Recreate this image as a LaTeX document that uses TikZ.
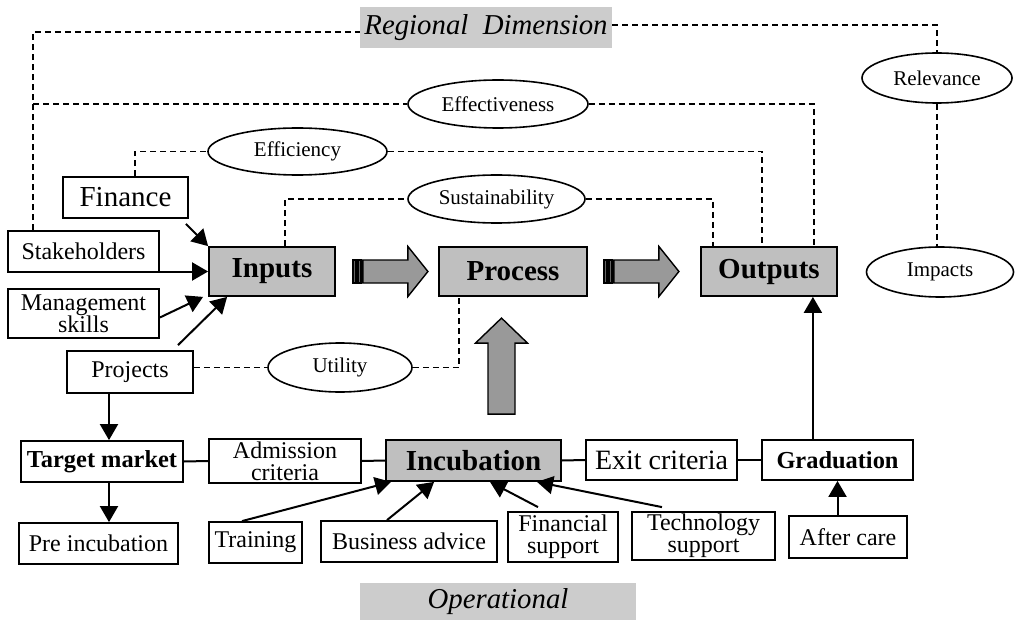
\documentclass[tikz,border=0pt]{standalone}
\usepackage{fontspec}
\setmainfont{Liberation Serif}
\usetikzlibrary{shapes.geometric,arrows.meta}

\tikzset{
  box/.style={draw, line width=0.9pt, inner sep=1pt, align=center, font=\fontsize{12}{11}\selectfont},
  bigbox/.style={box, font=\fontsize{14.5}{16}\selectfont},
  stage/.style={box, fill=black!25, font=\bfseries\fontsize{14.5}{16}\selectfont},
  bfbox/.style={box, font=\bfseries\fontsize{12.2}{14}\selectfont},
  oval/.style={ellipse, draw, line width=0.8pt, inner sep=0pt, font=\fontsize{10.5}{12}\selectfont},
  dimbox/.style={fill=black!20, inner sep=0pt, font=\itshape\fontsize{14.4}{16}\selectfont},
  dline/.style={line width=0.75pt, dash pattern=on 3pt off 2pt},
  arr/.style={line width=1pt, -{Triangle[length=8pt,width=9pt]}},
  link/.style={line width=1pt},
  fatarrow/.pic={
    \draw[line width=0.7pt, fill=black!60] (0pt,-5.75pt) rectangle (1.5pt,5.75pt);
    \draw[line width=0.7pt, fill=black!60] (2.5pt,-5.75pt) rectangle (4pt,5.75pt);
    \draw[line width=0.7pt, fill=black!40] (5pt,-5.75pt) -- (27.5pt,-5.75pt) -- (27.5pt,-12.5pt)
      -- (37.5pt,0pt) -- (27.5pt,12.5pt) -- (27.5pt,5.75pt) -- (5pt,5.75pt) -- cycle;
  }
}

\begin{document}
\begin{tikzpicture}[x=0.5pt,y=-0.5pt]
  \useasboundingbox (0,0) rectangle (1016,620);

  % dimensions
  \node[dimbox, minimum width=126pt, minimum height=20.5pt] (reg) at (486,27.5) {Regional~~Dimension};
  \node[dimbox, minimum width=138pt, minimum height=18.5pt] (oper) at (498,601.5) {Operational};

  % criteria
  \node[oval, minimum width=90pt, minimum height=24pt] (eff) at (498,104) {Effectiveness};
  \node[oval, minimum width=89.5pt, minimum height=23.5pt] (effi) at (297.5,151.5) {Efficiency};
  \node[oval, minimum width=88.5pt, minimum height=24pt] (sust) at (496.5,199) {Sustainability};
  \node[oval, minimum width=75pt, minimum height=25pt] (rel) at (937,78) {Relevance};
  \node[oval, minimum width=73.5pt, minimum height=25pt] (imp) at (940,272) {Impacts};
  \node[oval, minimum width=72pt, minimum height=24.5pt] (util) at (340,367.5) {Utility};

  % inputs side
  \node[bigbox, minimum width=62.5pt, minimum height=20.5pt] (fin) at (125.5,197.5) {Finance};
  \node[box, minimum width=75.5pt, minimum height=20.5pt] (stake) at (83.5,251.5) {Stakeholders};
  \node[box, minimum width=75.5pt, minimum height=24.5pt] (mgmt) at (83.5,313.5) {Management\\skills};
  \node[box, minimum width=63pt, minimum height=21pt] (proj) at (130,372) {Projects};

  % main chain
  \node[stage, minimum width=63pt, minimum height=24.5pt] (inp) at (272,271.5) {Inputs};
  \node[stage, minimum width=74pt, minimum height=24.5pt] (proc) at (513,271.5) {Process};
  \node[stage, minimum width=68pt, minimum height=24.5pt] (outp) at (769,271.5) {Outputs};

  % operational row
  \node[bfbox, minimum width=81pt, minimum height=20.5pt] (tm) at (102,461.5) {Target market};
  \node[box, minimum width=76pt, minimum height=22pt] (adm) at (285,461) {Admission\\criteria};
  \node[stage, minimum width=87.5pt, minimum height=20.5pt] (inc) at (473.5,460.5) {Incubation};
  \node[box, font=\fontsize{14}{16}\selectfont, minimum width=75.5pt, minimum height=20pt] (exit) at (661.5,460) {Exit criteria};
  \node[bfbox, minimum width=75.5pt, minimum height=20pt] (grad) at (837.5,460) {Graduation};

  \node[box, minimum width=79.5pt, minimum height=20.5pt] (pre) at (98.5,543.5) {Pre incubation};
  \node[box, minimum width=46.5pt, minimum height=20.5pt] (train) at (255.5,542.5) {Training};
  \node[box, minimum width=88pt, minimum height=20.5pt] (bus) at (409,541.5) {Business advice};
  \node[box, minimum width=55pt, minimum height=25pt] (finsup) at (563,537) {Financial\\support};
  \node[box, minimum width=71.5pt, minimum height=24pt] (tech) at (703.5,536) {Technology\\support};
  \node[box, minimum width=59pt, minimum height=21pt] (after) at (848,537) {After care};

  % dashed links
  \coordinate (rl) at (33,32);
  \coordinate (rr) at (937,25);
  \coordinate (o1) at ([xshift=-12pt]outp.north east);
  \coordinate (o2) at ([xshift=-3.5pt]outp.north);
  \coordinate (o3) at ([xshift=-28pt]outp.north);
  \coordinate (f1) at ([xshift=4.75pt]fin.north);
  \coordinate (i1) at ([xshift=6.5pt]inp.north);
  \coordinate (p1) at ([xshift=-27pt]proc.south);
  \draw[dline] (stake.north -| rl) -- (rl) -- (reg.west |- rl);
  \draw[dline] (reg.east |- rr) -- (rr) -- (rel.north);
  \draw[dline] (rel.south) -- (rel.south |- imp.north);
  \draw[dline] (rl |- eff.west) -- (eff.west);
  \draw[dline] (eff.east) -| (o1);
  \draw[dline] (f1) |- (effi.west);
  \draw[dline] (effi.east) -| (o2);
  \draw[dline] (i1) |- (sust.west);
  \draw[dline] (sust.east) -| (o3);
  \draw[dline] (util.west -| proj.east) -- (util.west);
  \draw[dline] (util.east) -| (p1);

  % solid arrows
  \draw[arr] ([xshift=-1.5pt,yshift=-2.5pt]fin.south east) -- (inp.north west);
  \draw[arr] (inp.west -| stake.east) -- (inp.west);
  \draw[arr] ([yshift=-2pt]mgmt.east) -- ([xshift=-2.5pt]inp.south west);
  \draw[arr] ([xshift=24pt,yshift=2.5pt]proj.north) -- ([xshift=9.5pt]inp.south west);
  \draw[arr] ([xshift=-10.5pt]proj.south) -- ([xshift=3.5pt]tm.north);
  \draw[arr] ([xshift=3.5pt]tm.south) -- ([xshift=5.25pt]pre.north);
  \draw[link] (tm.east) -- (adm.west);
  \draw[link] (adm.east) -- (inc.west);
  \draw[link] (inc.east) -- (exit.west);
  \draw[link] (exit.east) -- (grad.west);
  \draw[arr] ([xshift=-6.75pt]train.north) -- ([xshift=3pt]inc.south west);
  \draw[arr] ([xshift=-11pt]bus.north) -- ([xshift=24.5pt]inc.south west);
  \draw[arr] ([xshift=-12.5pt,yshift=2pt]finsup.north) -- ([xshift=8.25pt]inc.south);
  \draw[arr] ([xshift=-20.75pt,yshift=2pt]tech.north) -- ([xshift=31.75pt]inc.south);
  \draw[arr] (grad.south |- after.north) -- (grad.south);
  \coordinate (og) at ([xshift=-12.5pt]outp.south east);
  \draw[arr] (og |- grad.north) -- (og);

  % block arrows
  \pic at ([xshift=8.5pt]inp.east) {fatarrow};
  \pic at ([xshift=8pt]proc.east) {fatarrow};
  \coordinate (ub0) at (proc.south |- inc.north);
  \coordinate (ub) at ([xshift=-5.75pt,yshift=12.5pt]ub0);
  \draw[line width=0.7pt, fill=black!40] (ub) +(-6.75pt,0pt) -- +(-6.75pt,35.5pt) -- +(-13pt,35.5pt)
    -- +(0pt,48pt) -- +(13pt,35.5pt) -- +(6.75pt,35.5pt) -- +(6.75pt,0pt) -- cycle;
\end{tikzpicture}
\end{document}
